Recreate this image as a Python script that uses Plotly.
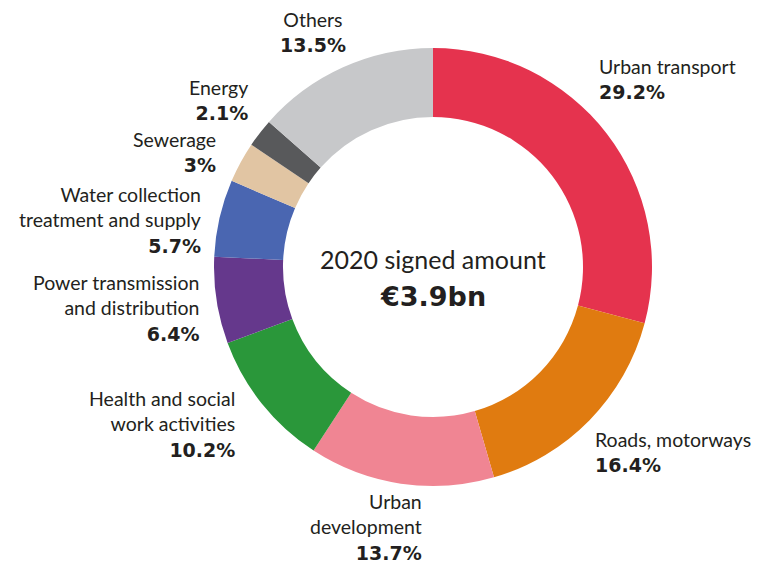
import plotly.graph_objects as go

# ---- data ----
categories = [
    "Urban transport",
    "Roads, motorways",
    "Urban development",
    "Health and social work activities",
    "Power transmission and distribution",
    "Water collection treatment and supply",
    "Sewerage",
    "Energy",
    "Others",
]
shares = [29.2, 16.4, 13.7, 10.2, 6.4, 5.7, 3, 2.1, 13.5]
label_lines = [
    ["Urban transport"],
    ["Roads, motorways"],
    ["Urban", "development"],
    ["Health and social", "work activities"],
    ["Power transmission", "and distribution"],
    ["Water collection", "treatment and supply"],
    ["Sewerage"],
    ["Energy"],
    ["Others"],
]
center_title = "2020 signed amount"
center_value = "€3.9bn"

# ---- styles ----
colors = ["#E5334E", "#E07B10", "#F08593", "#2A973A", "#65388C",
          "#4A66B1", "#E1C5A3", "#58595B", "#C7C8CA"]
W, H = 760, 563
CX, CY, R = 433, 267, 219
HOLE = 0.685
TXT = "#231F20"
FONT = "Lato"
BOLD = "DejaVu Sans"

# label anchor (pixels) : x, y(center of block), xanchor
label_pos = [
    (597, 79, "left"),
    (593, 452, "left"),
    (424, 527, "right"),
    (237, 424, "right"),
    (201, 308, "right"),
    (203, 220, "right"),
    (218, 152, "right"),
    (250, 100, "right"),
    (313, 32, "center"),
]

fig = go.Figure(go.Pie(
    labels=categories,
    values=shares,
    sort=False,
    direction="clockwise",
    rotation=0,
    hole=HOLE,
    marker=dict(colors=colors, line=dict(width=0)),
    textinfo="none",
    hoverinfo="label+value",
    domain=dict(x=[(CX - R) / W, (CX + R) / W],
                y=[(H - CY - R) / H, (H - CY + R) / H]),
    showlegend=False,
))

annotations = []
for lines, v, (px, py, xa) in zip(label_lines, shares, label_pos):
    pct = f"{v:g}%"
    txt = "<br>".join(lines) + (
        f"<br><span style='font-family:{BOLD};font-weight:bold;font-size:19px'>{pct}</span>")
    annotations.append(dict(
        x=px / W, y=1 - py / H, xref="paper", yref="paper",
        xanchor=xa, yanchor="middle", align=xa,
        text=txt, showarrow=False,
        font=dict(family=FONT, size=19.5, color=TXT),
    ))

annotations.append(dict(
    x=CX / W, y=1 - 259 / H, xref="paper", yref="paper",
    xanchor="center", yanchor="middle", text=center_title, showarrow=False,
    font=dict(family=FONT, size=25, color=TXT)))
annotations.append(dict(
    x=CX / W, y=1 - 296 / H, xref="paper", yref="paper",
    xanchor="center", yanchor="middle", text="<b>%s</b>" % center_value, showarrow=False,
    font=dict(family=BOLD, size=27, color=TXT)))

fig.update_layout(
    width=W, height=H,
    margin=dict(l=0, r=0, t=0, b=0),
    paper_bgcolor="white",
    plot_bgcolor="white",
    annotations=annotations,
)

fig.write_html("out.html", config={"displayModeBar": False},
               post_script="document.body.style.margin='0';")
